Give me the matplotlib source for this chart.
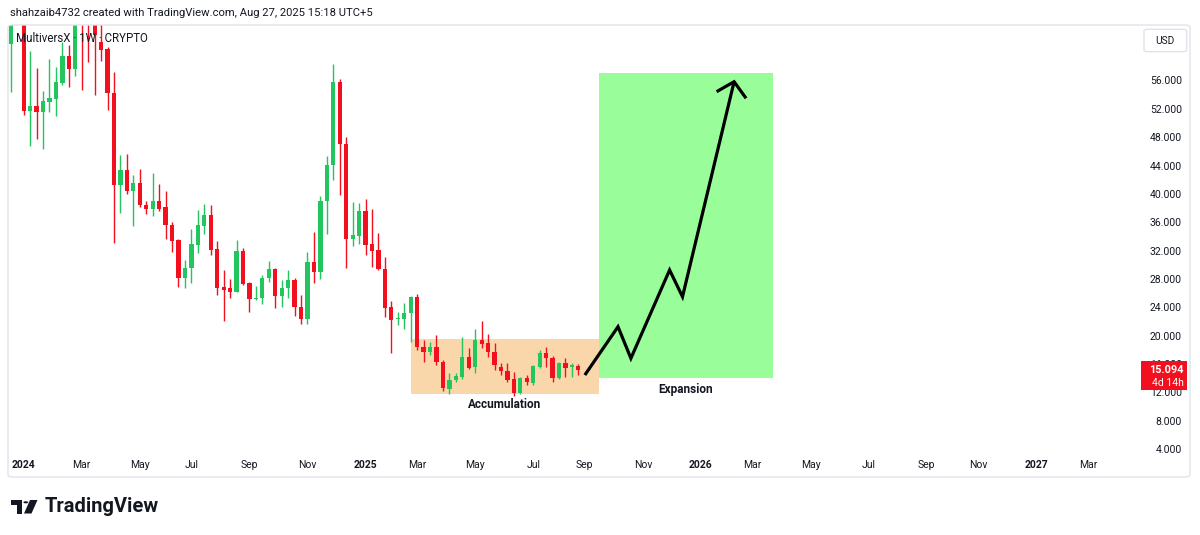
import matplotlib
matplotlib.use("Agg")
import matplotlib.pyplot as plt
import matplotlib.dates as mdates
import numpy as np
import pandas as pd
from matplotlib.patches import Rectangle, FancyBboxPatch, Polygon, Circle

plt.rcParams['font.family'] = ['Roboto', 'DejaVu Sans']

# ---------------- data ----------------
first_week = "2023-12-18"   # weekly candles (Monday opens)
opens = [61.2, 65.5, 68.5, 51.7, 52.4, 51.5, 53.0, 53.4, 55.7, 59.5,
         57.6, 70.0, 67.0, 64.4, 61.5, 60.4, 54.3, 41.3, 43.4, 40.4,
         41.6, 38.5, 37.9, 39.0, 38.1, 35.6, 33.5, 28.1, 29.6, 32.8,
         35.5, 37.0, 32.2, 26.8, 26.7, 26.2, 31.9, 27.4, 25.1, 25.3,
         28.2, 29.4, 25.6, 26.7, 27.9, 24.1, 22.4, 30.4, 29.0, 39.0,
         44.1, 55.8, 47.0, 33.6, 34.1, 37.6, 32.9, 32.1, 29.4, 24.1,
         22.35, 22.3, 23.2, 25.4, 18.4, 17.7, 18.4, 16.3, 12.5, 13.7,
         14.1, 17.0, 15.6, 19.4, 18.9, 17.7, 15.6, 15.0, 13.9, 11.9,
         14.0, 13.3, 15.6, 17.5, 16.9, 14.0, 16.1, 15.6, 15.7]
highs = [69.0, 71.0, 70.0, 60.1, 57.8, 54.5, 59.1, 57.9, 61.5, 61.0,
         69.0, 75.0, 71.0, 68.0, 64.5, 60.7, 57.2, 45.5, 45.6, 42.7,
         43.5, 39.0, 42.9, 41.4, 40.4, 36.0, 33.7, 30.7, 35.0, 37.7,
         38.6, 38.4, 33.4, 29.2, 28.0, 33.5, 32.4, 27.6, 27.0, 28.5,
         30.5, 29.6, 27.8, 29.3, 28.2, 25.8, 31.8, 34.6, 39.7, 45.3,
         58.3, 56.2, 48.0, 38.9, 38.7, 39.3, 37.8, 34.5, 31.1, 24.9,
         23.4, 24.6, 25.6, 25.9, 19.4, 19.1, 20.1, 16.5, 14.7, 14.8,
         19.8, 18.3, 20.9, 22.0, 20.3, 18.9, 16.2, 16.2, 14.9, 14.1,
         14.5, 15.9, 18.0, 18.4, 17.1, 16.3, 16.9, 16.2, 16.0]
lows = [54.4, 64.3, 51.1, 46.8, 47.8, 46.3, 51.6, 51.0, 55.3, 55.1,
        56.7, 54.7, 58.6, 54.0, 58.8, 51.8, 33.1, 37.3, 40.0, 35.5,
        38.2, 37.1, 36.9, 37.6, 33.7, 31.8, 26.9, 26.7, 27.4, 31.7,
        34.4, 31.4, 25.7, 22.1, 25.3, 26.1, 27.1, 23.3, 25.0, 24.5,
        27.6, 23.9, 24.1, 25.3, 22.8, 21.6, 21.7, 27.4, 28.0, 34.4,
        42.0, 39.8, 29.6, 32.6, 32.9, 31.4, 29.7, 29.2, 22.7, 17.6,
        21.5, 20.9, 19.1, 18.0, 16.3, 17.3, 15.9, 12.2, 11.8, 13.5,
        13.9, 15.3, 14.8, 18.2, 17.0, 15.2, 14.5, 13.5, 11.5, 11.8,
        13.0, 13.0, 15.4, 15.6, 13.5, 13.9, 14.2, 14.2, 14.4]
closes = [65.5, 68.5, 51.7, 52.4, 51.5, 53.1, 53.5, 55.8, 59.5, 57.6,
          66.0, 65.0, 64.4, 62.4, 60.3, 54.2, 41.3, 43.4, 40.4, 41.6,
          38.4, 37.9, 39.0, 37.9, 35.6, 33.3, 28.1, 29.6, 32.9, 35.6,
          37.0, 32.1, 26.7, 26.4, 26.2, 31.9, 27.3, 25.1, 25.35, 28.2,
          29.4, 25.6, 26.7, 27.9, 24.1, 22.4, 30.4, 29.0, 39.0, 44.1,
          55.8, 47.0, 33.6, 34.2, 37.6, 32.8, 32.0, 29.4, 23.9, 22.2,
          22.45, 23.2, 25.4, 18.4, 17.7, 18.4, 16.3, 12.6, 13.8, 14.3,
          17.0, 15.5, 19.4, 18.8, 17.7, 15.9, 15.0, 13.8, 11.9, 14.0,
          13.4, 15.7, 17.5, 16.9, 14.0, 16.1, 15.5, 15.8, 15.094]

# drawings on the chart
accum_dates = ["2025-02-24", "2025-09-16"]
accum_prices = [11.83, 19.52]
expan_dates = ["2025-09-16", "2026-03-24"]
expan_prices = [14.0, 57.0]
path_dates = ["2025-09-01", "2025-10-07", "2025-10-21", "2025-12-02", "2025-12-16", "2026-02-10"]
path_prices = [14.44, 21.26, 16.80, 29.26, 25.49, 55.83]
head_dates = ["2026-01-22", "2026-02-10", "2026-02-23"]
head_prices = [54.42, 55.83, 53.49]
accum_label_price = 10.35
expan_label_price = 12.47

price_ticks = [4, 8, 12, 16, 20, 24, 28, 32, 36, 40, 44, 48, 52, 56]
tick_months = ["2024-01", "2024-03", "2024-05", "2024-07", "2024-09", "2024-11",
               "2025-01", "2025-03", "2025-05", "2025-07", "2025-09", "2025-11",
               "2026-01", "2026-03", "2026-05", "2026-07", "2026-09", "2026-11",
               "2027-01", "2027-03"]
tick_labels = ["2024", "Mar", "May", "Jul", "Sep", "Nov",
               "2025", "Mar", "May", "Jul", "Sep", "Nov",
               "2026", "Mar", "May", "Jul", "Sep", "Nov",
               "2027", "Mar"]

header = "shahzaib4732 created with TradingView.com, Aug 27, 2025 15:18 UTC+5"
title = "MultiversX \u00b7 1W \u00b7 CRYPTO"
countdown = "4d 14h"

# ---------------- style ----------------
UP = "#22c55e"
DOWN = "#f2101e"
TXT = "#131722"
W, H = 1200, 535

fig = plt.figure(figsize=(W / 100, H / 100), dpi=100)
fig.patch.set_facecolor("white")


def fx(px):
    return px / W


def fy(py):
    return 1 - py / H


ax = fig.add_axes([fx(9), fy(455), fx(1135) - fx(9), fy(25) - fy(455)])
ax.set_facecolor("white")

o = np.array(opens)
h = np.array(highs)
l = np.array(lows)
c = np.array(closes)
dates = pd.date_range(first_week, periods=len(o), freq="7D")
xd = mdates.date2num(dates)
cols = np.where(c >= o, UP, DOWN)

ax.vlines(xd, l, h, colors=cols, linewidth=1.0, zorder=3)
body_low = np.minimum(o, c)
body_h = np.maximum(np.abs(c - o), 0.15)
ax.bar(xd, body_h, bottom=body_low, width=4.6, color=cols, linewidth=0, zorder=4)

# boxes
a0, a1 = mdates.date2num(pd.to_datetime(accum_dates))
ax.add_patch(Rectangle((a0, accum_prices[0]), a1 - a0, accum_prices[1] - accum_prices[0],
                       facecolor="#fad7aa", edgecolor="none", zorder=1))
e0, e1 = mdates.date2num(pd.to_datetime(expan_dates))
ax.add_patch(Rectangle((e0, expan_prices[0]), e1 - e0, expan_prices[1] - expan_prices[0],
                       facecolor="#99fe99", edgecolor="none", zorder=1))

# path + arrow head
ax.plot(mdates.date2num(pd.to_datetime(path_dates)), path_prices, color="black",
        linewidth=2.3, solid_joinstyle="miter", solid_capstyle="butt", zorder=6)
ax.plot(mdates.date2num(pd.to_datetime(head_dates)), head_prices, color="black",
        linewidth=2.3, solid_joinstyle="miter", solid_capstyle="butt", zorder=6)

ax.text((a0 + a1) / 2, accum_label_price, "Accumulation", ha="center", va="center",
        fontsize=8.5, fontweight="bold", color=TXT, zorder=7)
ax.text((e0 + e1) / 2, expan_label_price, "Expansion", ha="center", va="center",
        fontsize=8.5, fontweight="bold", color=TXT, zorder=7)

# limits
base = pd.Timestamp("2024-01-01")
x_left = mdates.date2num(base - pd.Timedelta(days=15.95))
x_right = mdates.date2num(base + pd.Timedelta(days=1206.1))
ax.set_xlim(x_left, x_right)
ax.set_ylim(3.16, 63.83)

# x ticks: first Monday of each month
tick_pos = []
for m in tick_months:
    d = pd.Timestamp(m + "-01")
    d = d + pd.Timedelta(days=(7 - d.weekday()) % 7)
    tick_pos.append(mdates.date2num(d))
ax.set_xticks(tick_pos)
ax.set_xticklabels(tick_labels)
ax.tick_params(axis="x", length=0, pad=3.6, labelsize=7.5, labelcolor=TXT)
for lbl in ax.get_xticklabels():
    if lbl.get_text().isdigit():
        lbl.set_fontweight("bold")

ax.yaxis.tick_right()
ax.set_yticks(price_ticks)
ax.set_yticklabels([f"{v:.3f}" for v in price_ticks])
ax.tick_params(axis="y", length=0, pad=33.8, labelsize=7.5, labelcolor=TXT)
for lbl in ax.get_yticklabels():
    lbl.set_horizontalalignment("right")

for s in ax.spines.values():
    s.set_visible(False)

# title inside chart
ax.text(0.006, 0.968, title, transform=ax.transAxes, ha="left", va="center",
        fontsize=8.3, color=TXT, zorder=8)

# frame
fig.patches.append(FancyBboxPatch((fx(8), fy(477)), fx(1190) - fx(8), fy(25) - fy(477),
                                  boxstyle="round,pad=0,rounding_size=0.004",
                                  transform=fig.transFigure, facecolor="none",
                                  edgecolor="#e0e3eb", linewidth=1.0, zorder=0))

# header
fig.text(fx(10), fy(13), header, ha="left", va="center", fontsize=8.1, color=TXT)

# USD box
fig.patches.append(FancyBboxPatch((fx(1144), fy(51.7)), fx(1186.7) - fx(1144), fy(29.3) - fy(51.7),
                                  boxstyle="round,pad=0,rounding_size=0.003",
                                  transform=fig.transFigure, facecolor="white",
                                  edgecolor="#e0e3eb", linewidth=1.0, zorder=5))
fig.text(fx(1165.3), fy(40.5), "USD", ha="center", va="center", fontsize=7.3, color=TXT, zorder=6)

# last price label
fig.canvas.draw()
ydisp = ax.transData.transform((x_left, closes[-1]))[1]
py = H - ydisp
lab = Rectangle((fx(1140.7), fy(py + 20)), fx(1186.7) - fx(1140.7), fy(py - 9) - fy(py + 20),
                transform=fig.transFigure, facecolor=DOWN, edgecolor="none", zorder=10)
fig.patches.append(lab)
fig.text(fx(1184), fy(py), f"{closes[-1]:.3f}", ha="right", va="center", fontsize=7.8,
         fontweight="bold", color="white", zorder=11)
fig.text(fx(1184), fy(py + 12.5), countdown, ha="right", va="center", fontsize=7.5,
         color="white", zorder=11)

# TradingView logo
fig.patches.append(Polygon([(fx(11), fy(500)), (fx(22), fy(500)), (fx(22), fy(513.5)),
                            (fx(16.5), fy(513.5)), (fx(16.5), fy(504.5)), (fx(11), fy(504.5))],
                           closed=True, transform=fig.transFigure, facecolor=TXT, edgecolor="none"))
fig.patches.append(Circle((fx(25.8), fy(502.3)), 2.4 / W, transform=fig.transFigure,
                          facecolor=TXT, edgecolor="none"))
fig.patches.append(Polygon([(fx(30), fy(500)), (fx(37.5), fy(500)), (fx(31.5), fy(513.5)),
                            (fx(24), fy(513.5))],
                           closed=True, transform=fig.transFigure, facecolor=TXT, edgecolor="none"))
fig.text(fx(45), fy(507), "TradingView", ha="left", va="center", fontsize=14.5,
         fontweight="bold", color=TXT)

fig.savefig("out.png", dpi=100, facecolor="white")
